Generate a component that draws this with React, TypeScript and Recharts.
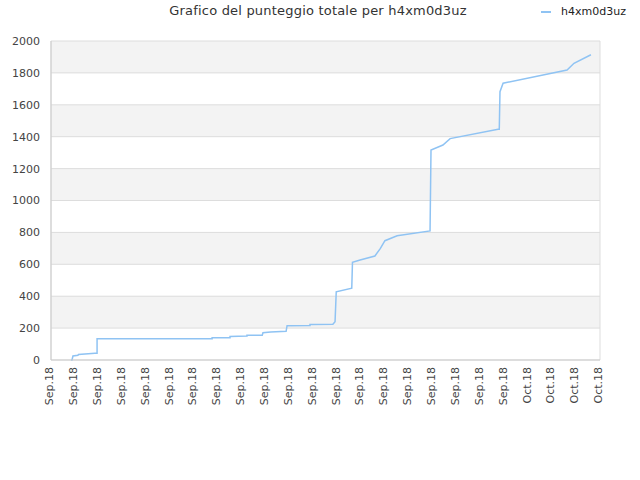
import { CartesianGrid, Line, LineChart, XAxis, YAxis } from "recharts";

// x is measured in tick steps along the date axis (0 = first label)
const dayPos = [
  0.84, 0.88, 0.92, 1.13, 1.15, 1.84, 1.93, 1.93, 6.75, 6.75, 7.5, 7.5, 8.21, 8.21,
  8.85, 8.88, 9.2, 9.85, 9.89, 10.85, 10.85, 11.81, 11.9, 11.95, 12.6, 12.63, 12.95,
  13.57, 13.8, 13.99, 14.5, 15.88, 15.92, 16.42, 16.72, 18.73, 18.78, 18.81, 18.94,
  21.62, 21.91, 22.62,
];
const scores = [
  0, 0, 25, 30, 35, 42, 42, 134, 134, 140, 140, 148, 150, 155,
  155, 171, 176, 180, 215, 216, 222, 224, 240, 428, 450, 612, 627,
  652, 700, 748, 779, 809, 1317, 1348, 1388, 1446, 1446, 1682, 1735,
  1818, 1860, 1914,
];
const tickLabels = [
  "Sep.18", "Sep.18", "Sep.18", "Sep.18", "Sep.18", "Sep.18", "Sep.18", "Sep.18",
  "Sep.18", "Sep.18", "Sep.18", "Sep.18", "Sep.18", "Sep.18", "Sep.18", "Sep.18",
  "Sep.18", "Sep.18", "Sep.18", "Sep.18", "Oct.18", "Oct.18", "Oct.18", "Oct.18",
];
const yTicks = [0, 200, 400, 600, 800, 1000, 1200, 1400, 1600, 1800, 2000];
const seriesName = "h4xm0d3uz";
const title = "Grafico del punteggio totale per h4xm0d3uz";

const FONT = "DejaVu Sans, sans-serif";
const LINE = "#8fc3f3";

const data = dayPos.map((x, i) => ({ x, score: scores[i] }));

function DateTick({ x, y, payload }: any) {
  return (
    <text
      x={x}
      y={y}
      transform={`rotate(-90, ${x}, ${y})`}
      textAnchor="end"
      dy="0.2em"
      fontSize={11}
      fontFamily={FONT}
      fill="#444"
    >
      {tickLabels[payload.value]}
    </text>
  );
}

export default function App() {
  return (
    <div style={{ position: "absolute", left: 0, top: 0, width: 640, height: 480, background: "#fff" }}>
      <div
        style={{
          position: "absolute",
          left: 0,
          top: 3,
          width: 636,
          textAlign: "center",
          fontFamily: FONT,
          fontSize: 13,
          letterSpacing: 0.2,
          color: "#333",
        }}
      >
        {title}
      </div>
      <div
        style={{
          position: "absolute",
          left: 541,
          top: 5,
          display: "flex",
          alignItems: "center",
          fontFamily: FONT,
          fontSize: 11,
          color: "#222",
        }}
      >
        <span style={{ display: "inline-block", width: 10, height: 2, background: LINE, marginRight: 10 }} />
        {seriesName}
      </div>
      <LineChart
        width={640}
        height={480}
        data={data}
        margin={{ top: 41, right: 40, bottom: 0, left: 0 }}
      >
        <CartesianGrid
          stroke="#dddddd"
          horizontalFill={["#f3f3f3", "#ffffff"]}
          fillOpacity={1}
          verticalCoordinatesGenerator={({ offset }: any) => [offset.left, offset.left + offset.width]}
        />
        <XAxis
          dataKey="x"
          type="number"
          domain={[0, 23]}
          ticks={tickLabels.map((_, i) => i)}
          interval={0}
          tick={<DateTick />}
          tickLine={false}
          tickSize={0}
          tickMargin={7}
          stroke="#cccccc"
          height={120}
        />
        <YAxis
          type="number"
          domain={[0, 2000]}
          ticks={yTicks}
          interval={0}
          tickLine={false}
          tickSize={0}
          tickMargin={11}
          tick={{ fill: "#444", fontSize: 11, fontFamily: FONT }}
          stroke="#cccccc"
          width={51}
        />
        <Line
          type="linear"
          dataKey="score"
          name={seriesName}
          stroke={LINE}
          strokeWidth={1.5}
          dot={false}
          isAnimationActive={false}
        />
      </LineChart>
    </div>
  );
}
